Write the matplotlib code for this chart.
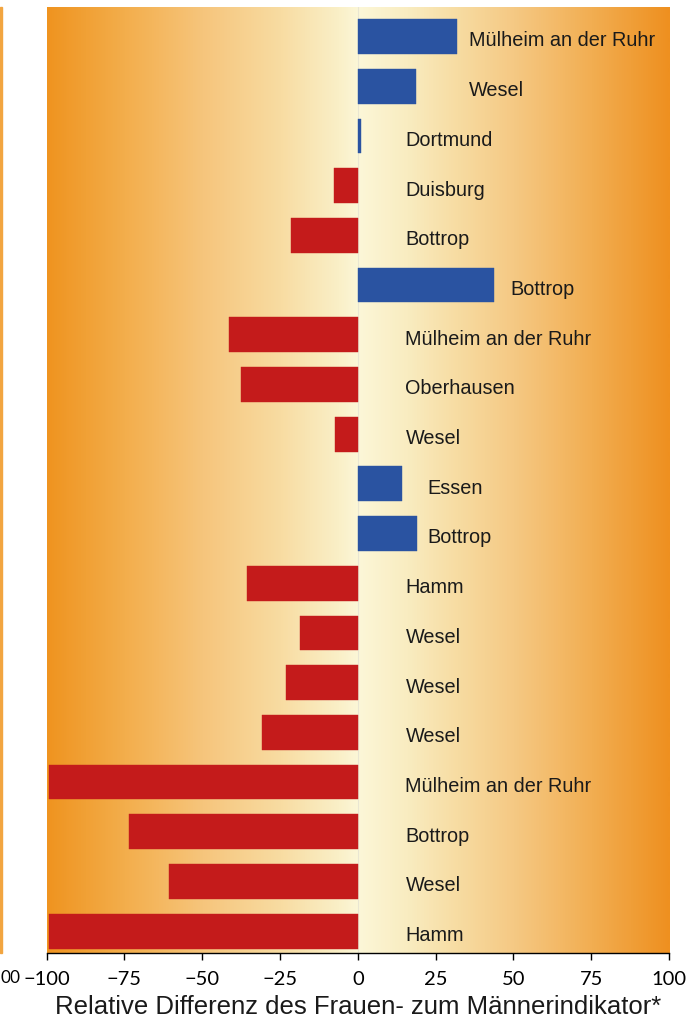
import numpy as np
import matplotlib
matplotlib.use("Agg")
import matplotlib.pyplot as plt
from matplotlib.colors import LinearSegmentedColormap

# ---- data (top to bottom) ----
cities = ["Mülheim an der Ruhr", "Wesel", "Dortmund", "Duisburg", "Bottrop",
          "Bottrop", "Mülheim an der Ruhr", "Oberhausen", "Wesel", "Essen",
          "Bottrop", "Hamm", "Wesel", "Wesel", "Wesel",
          "Mülheim an der Ruhr", "Bottrop", "Wesel", "Hamm"]
values = [32, 18.6, 1, -7.7, -21.6,
          43.8, -41.3, -37.5, -7.5, 14.3,
          19, -35.5, -18.6, -23.1, -30.7,
          -99.3, -73.5, -60.8, -99.3]
label_x = [35.6, 35.6, 15.3, 15.3, 15.3,
           49.1, 15.3, 15.3, 15.3, 22.3,
           22.3, 15.3, 15.3, 15.3, 15.3,
           15.3, 15.3, 15.3, 15.3]
xticks = [-100, -75, -50, -25, 0, 25, 50, 75, 100]
xlabel = "Relative Differenz des Frauen- zum Männerindikator*"

RED = "#C41B1B"
BLUE = "#2A53A1"

W, H = 688, 1025
fig = plt.figure(figsize=(W / 100, H / 100), dpi=100)
fig.patch.set_facecolor("white")

ax_l, ax_r, ax_t, ax_b = 46.7, 669.0, 7.3, 953.0
ax = fig.add_axes([ax_l / W, 1 - ax_b / H, (ax_r - ax_l) / W, (ax_b - ax_t) / H])

n = len(values)
y_top, y_bot = -0.5875, n - 0.5 - 0.06
ax.set_xlim(-100, 100)
ax.set_ylim(y_bot, y_top)

# background gradient
stops = [(0.00, "#EF9420"), (0.125, "#F3AE4C"), (0.25, "#F6C57C"),
         (0.375, "#F8DCA2"), (0.47, "#FAF0C8"), (0.50, "#FCF7D8"),
         (0.58, "#F9ECC0"), (0.66, "#F7DCA2"), (0.75, "#F5C984"),
         (0.875, "#F2AE52"), (1.00, "#EE9020")]
cmap = LinearSegmentedColormap.from_list("bg", stops)
grad = np.linspace(0, 1, 512).reshape(1, -1)
ax.imshow(grad, cmap=cmap, aspect="auto", extent=[-100, 100, y_bot, y_top],
          zorder=0, interpolation="bilinear")

ax.axvline(0, color="#E9E6D2", lw=0.8, zorder=1)

y = np.arange(n)
colors = [BLUE if v > 0 else RED for v in values]
ax.barh(y, values, height=0.7, color=colors, edgecolor=colors, linewidth=0.3, zorder=2)

for yi, c, lx in zip(y, cities, label_x):
    ax.text(lx, yi + 0.2, c, ha="left", va="baseline", fontsize=14.3,
            family="Liberation Sans", color="#1a1a1a", zorder=3)

for s in ["top", "right", "left"]:
    ax.spines[s].set_visible(False)
ax.spines["bottom"].set_color("black")
ax.spines["bottom"].set_linewidth(1.0)
ax.set_yticks([])
ax.set_xticks(xticks)
ax.set_xticklabels([f"{t}".replace("-", "\u2212") for t in xticks],
                   fontsize=14.5, family="Lato")
ax.tick_params(axis="x", direction="out", length=5, width=1, color="black", pad=8)
ax.set_xlabel(xlabel, fontsize=18.5, family="Liberation Sans", color="#1a1a1a", labelpad=5)

# remnant of neighbouring panel at far left
fig.patches.append(plt.Rectangle((0, 1 - ax_b / H), 2 / W, (ax_b - ax_t) / H,
                                 transform=fig.transFigure, color="#F2A540",
                                 zorder=0))
fig.text(0.5 / W, 1 - 978 / H, "00", ha="left", va="center", fontsize=12.5,
         family="Lato", color="black")

fig.savefig("out.png", dpi=100)
